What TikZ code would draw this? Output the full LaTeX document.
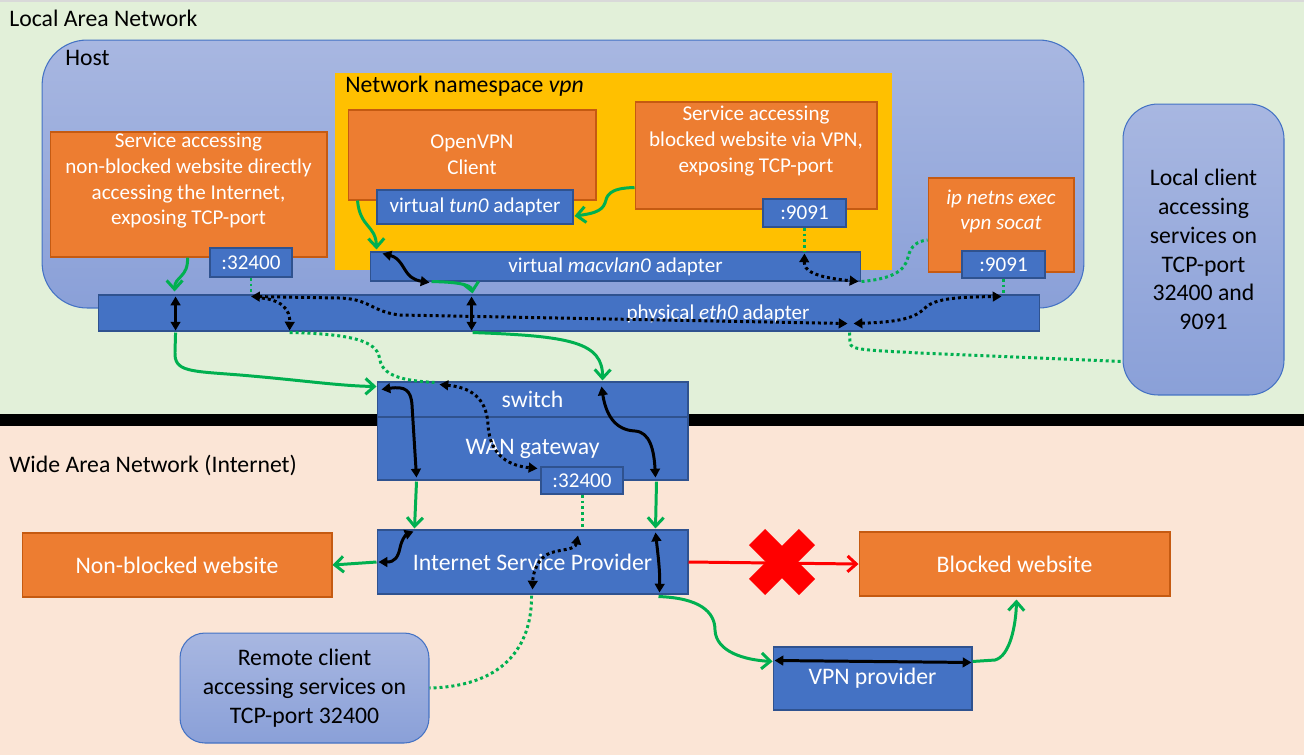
\documentclass[tikz,border=0pt]{standalone}
\usepackage{fontspec}
\setmainfont{Carlito}
\usepackage{tikz}
\usetikzlibrary{arrows.meta, calc, shapes.misc}
\definecolor{fondlan}{HTML}{E2F0D9}
\definecolor{fondwan}{HTML}{FBE5D6}
\definecolor{gris}{HTML}{D9D9D9}
\definecolor{orangeservice}{HTML}{ED7D31}
\definecolor{bordorange}{HTML}{C55A11}
\definecolor{bleuadapt}{HTML}{4472C4}
\definecolor{bordbleu}{HTML}{2F528F}
\definecolor{jaune}{HTML}{FFC000}
\definecolor{vert}{HTML}{00B050}
\definecolor{rouge}{HTML}{FF0000}
\definecolor{hotehaut}{HTML}{A8B7E1}
\definecolor{hotebas}{HTML}{8AA0D8}
\newcommand{\txtboite}{\fontsize{12}{14.6}\selectfont}
\newcommand{\txttitre}{\fontsize{13.5}{16.4}\selectfont}
\tikzset{
  service/.style={draw=bordorange, fill=orangeservice, text=white, line width=0.6pt, inner sep=0pt, align=center, font=\txttitre},
  adaptateur/.style={draw=bordbleu, fill=bleuadapt, text=white, line width=0.6pt, inner sep=0pt, align=center, font=\txtboite},
  reseau/.style={draw=bordbleu, fill=bleuadapt, text=white, line width=0.6pt, inner sep=0pt, align=center, font=\txttitre},
  client/.style={draw=bleuadapt, top color=hotehaut, bottom color=hotebas, line width=0.6pt, inner sep=0pt, align=center, font=\txttitre},
  blanc/.style={text=white, align=center, font=\txtboite, inner sep=0pt},
  titre/.style={font=\txttitre, inner sep=0pt, anchor=west},
  flux/.style={draw=vert, line width=1.7pt, -{Straight Barb[length=5pt,width=9pt]}},
  duplex/.style={draw=black, line width=1.7pt, {Triangle[length=5pt,width=5.5pt]}-{Triangle[length=5pt,width=5.5pt]}},
  pointille/.style={draw=black, line width=1.7pt, dash pattern=on 1.7pt off 1.7pt},
  tirets/.style={draw=vert, line width=1.7pt, dash pattern=on 1.7pt off 1.7pt},
  bloquee/.style={draw=rouge, line width=1.7pt, -{Straight Barb[length=5pt,width=9pt]}}
}
\begin{document}
\begin{tikzpicture}[x=0.02cm, y=-0.02cm]
  \useasboundingbox (0,0) rectangle (1304,755);
  % Fonds
  \fill[fondlan] (0,0) rectangle (1304,414);
  \fill[fondwan] (0,426) rectangle (1304,755);
  \fill[black] (0,414) rectangle (1304,426);
  \fill[gris] (0,0) rectangle (1304,2);
  \node[titre] (lan) at (9,18) {Local Area Network};
  \node[titre] (wan) at (9,465) {Wide Area Network (Internet)};

  % Hote
  \node[client, rounded corners=0.9cm, minimum width=20.84cm, minimum height=5.36cm] (hote) at (563,174) {};
  \node[titre] (hote-txt) at (65,58) {Host};
  \node[service, minimum width=5.54cm, minimum height=2.5cm] (svcdirect) at (188.5,194.5) {};
  \node[blanc] (svcdirect-txt) at (188.5,181) {Service accessing\\non-blocked website directly\\accessing the Internet,\\exposing TCP-port};
  \node[adaptateur, minimum width=1.64cm, minimum height=0.58cm] (port32h) at (251,262.5) {:32400};

  % Namespace vpn
  \node[fill=jaune, inner sep=0pt, minimum width=11.14cm, minimum height=3.94cm] (ns) at (613.5,171.5) {};
  \node[titre] (ns-txt) at (345,86) {Network namespace \textit{vpn}};
  \node[service, font=\txtboite, minimum width=4.96cm, minimum height=1.8cm] (openvpn) at (472,155) {OpenVPN\\Client};
  \node[adaptateur, minimum width=3.92cm, minimum height=0.68cm] (tun0) at (475,207) {virtual \textit{tun0} adapter};
  \node[service, minimum width=4.84cm, minimum height=2.14cm] (svcvpn) at (756,155.5) {};
  \node[blanc] (svcvpn-txt) at (756,141) {Service accessing\\blocked website via VPN,\\exposing TCP-port};
  \node[adaptateur, minimum width=1.66cm, minimum height=0.56cm] (port91n) at (804.5,213) {:9091};
  \node[adaptateur, minimum width=9.82cm, minimum height=0.58cm] (macvlan) at (615.5,266.5) {virtual \textit{macvlan0} adapter};

  % socat
  \node[service, minimum width=2.92cm, minimum height=1.88cm] (socat) at (1001,225) {};
  \node[blanc] (socat-txt) at (1001,211.5) {\textit{ip netns exec}\\\textit{vpn socat}};
  \node[adaptateur, minimum width=1.66cm, minimum height=0.54cm] (port91s) at (1003.5,264.5) {:9091};

  % eth0
  \node[adaptateur, minimum width=18.84cm, minimum height=0.72cm] (eth0) at (569,313) {};
  \node[blanc] (eth0-txt) at (718,314) {physical \textit{eth0} adapter};

  % Clients
  \node[client, rounded corners=0.7cm, minimum width=3.22cm, minimum height=5.82cm] (local) at (1203.5,249.5) {Local client\\accessing\\services on\\TCP-port\\32400 and\\9091};
  \node[client, rounded corners=0.5cm, minimum width=4.98cm, minimum height=2.2cm] (remote) at (304.5,688) {Remote client\\accessing services on\\TCP-port 32400};

  % WAN
  \node[reseau, minimum width=6.22cm, minimum height=0.7cm] (switch) at (532.5,399.5) {switch};
  \node[reseau, minimum width=6.22cm, minimum height=1.26cm] (gateway) at (532.5,448.5) {WAN gateway};
  \node[adaptateur, minimum width=1.64cm, minimum height=0.54cm] (port32g) at (582,480.5) {:32400};
  \node[reseau, minimum width=6.22cm, minimum height=1.28cm] (isp) at (532.5,562) {Internet Service Provider};
  \node[service, minimum width=6.2cm, minimum height=1.28cm] (nonbloque) at (177,565) {Non-blocked website};
  \node[service, minimum width=6.22cm, minimum height=1.28cm] (bloque) at (1014.5,564) {Blocked website};
  \node[reseau, minimum width=3.98cm, minimum height=1.26cm] (vpnprov) at (872.5,678.5) {VPN provider};

  % Service direct
  \draw[flux] ($(svcdirect.south west)+(138,0)$) .. controls +(1,20) and +(0,-15) .. ($(eth0.north west)+(77,-3)$);
  \draw[duplex] ($(eth0.north west)+(78,2)$) -- ($(eth0.south west)+(78,-1)$);
  \draw[flux] ($(eth0.south west)+(78,1)$) -- (175,352) .. controls (174,372) and (190,371) .. (240,375) .. controls (300,380) and (340,386) .. ($(switch.north west)+(0,5)$);
  \draw[tirets] (port32h.south) -- (port32h.south |- eth0.north);
  \draw[pointille, {Triangle[length=5pt,width=5.5pt]}-{Triangle[length=5pt,width=5.5pt]}] ($(port32h.south |- eth0.north)+(0,2)$) -- (340,298) .. controls (370,299) and (372,312) .. (400,315) -- ($(eth0.south west)+(750,-8)$);
  \draw[pointille, -{Triangle[length=5pt,width=5.5pt]}] ($(port32h.south |- eth0.north)+(5,3)$) .. controls (283,299) and (290,310) .. ($(eth0.south west)+(192,-1)$);
  \draw[tirets] ($(eth0.south west)+(192,1)$) .. controls (365,334) and (378,345) .. (380,360) .. controls (383,378) and (410,381) .. ($(switch.north west)+(58,1)$);
  \draw[pointille, {Triangle[length=5pt,width=5.5pt]}-{Triangle[length=5pt,width=5.5pt]}] ($(switch.north west)+(63,3)$) .. controls (478,388) and (487,405) .. (488,425) .. controls (490,458) and (512,466) .. ($(port32g.north west)+(-3,2)$);

  % Switch et passerelle
  \draw[duplex] ($(switch.north west)+(5,8)$) .. controls (405,386) and (411,390) .. (412,405) -- ($(gateway.south west)+(40,-3)$);
  \draw[flux] ($(gateway.south west)+(40,1)$) -- ($(isp.north west)+(38,-1)$);
  \draw[flux] ($(eth0.south west)+(375,1)$) .. controls (570,336) and (603,342) .. ($(switch.north west)+(226,-1)$);
  \draw[duplex] ($(switch.north west)+(225,5)$) .. controls (606,415) and (615,430) .. (635,431) .. controls (650,432) and (654,450) .. ($(gateway.south west)+(279,-3)$);
  \draw[flux] ($(gateway.south west)+(280,1)$) -- ($(isp.north west)+(279,-1)$);

  % Fournisseur
  \draw[duplex] ($(isp.north west)+(279,3)$) .. controls (658,555) and (660,570) .. ($(isp.south west)+(283,-2)$);
  \draw[flux] ($(isp.south west)+(282,2)$) .. controls (700,598) and (715,612) .. (715,630) .. controls (716,652) and (745,660) .. ($(vpnprov.north west)+(0,15)$);
  \draw[duplex] ($(vpnprov.north west)+(2,14)$) -- ($(vpnprov.north east)+(-1,16)$);
  \draw[flux] ($(vpnprov.north east)+(0,15)$) -- (995,660) .. controls (1010,656) and (1016,625) .. ($(bloque.south)+(2,3)$);
  \draw[bloquee] (isp.east) -- (bloque.west);
  \node[cross out, draw=rouge, line width=13pt, minimum size=1cm, inner sep=0pt, outer sep=0pt] (croix) at (782,562) {};
  \draw[flux] (isp.west) -- (nonbloque.east);
  \draw[duplex] ($(isp.west)+(2,0)$) .. controls (395,562) and (398,557) .. (400,548) .. controls (402,538) and (407,534) .. ($(isp.north west)+(37,2)$);
  \draw[tirets] (port32g.south) -- (port32g.south |- isp.north);
  \draw[pointille, {Triangle[length=5pt,width=5.5pt]}-{Triangle[length=5pt,width=5.5pt]}] ($(port32g.south |- isp.north)+(-4,6)$) .. controls (575,550) and (562,549) .. (550,553) .. controls (538,558) and (533,572) .. ($(isp.south west)+(156,-5)$);
  \draw[tirets] ($(isp.south west)+(155,1)$) .. controls (532,640) and (510,686) .. (remote.east);

  % Namespace
  \draw[flux] ($(svcvpn.south west)+(0,-22)$) .. controls (608,188) and (607,196) .. (605,203) .. controls (602,212) and (590,214) .. ($(tun0.east)+(1,9)$);
  \draw[flux] ($(openvpn.south west)+(10,0)$) .. controls (360,228) and (376,225) .. ($(macvlan.north west)+(7,-2)$);
  \draw[duplex] ($(macvlan.north west)+(13,2)$) .. controls (400,258) and (403,268) .. (408,274) .. controls (413,280) and (420,281) .. ($(macvlan.south west)+(60,1)$);
  \draw[flux] ($(macvlan.south west)+(62,0)$) .. controls (455,282) and (471,284) .. ($(eth0.north west)+(375,-1)$);
  \draw[duplex] ($(eth0.north west)+(374,2)$) -- ($(eth0.south west)+(374,-1)$);
  \draw[tirets] (port91n.south) -- (port91n.south |- macvlan.north);
  \draw[pointille, {Triangle[length=5pt,width=5.5pt]}-{Triangle[length=5pt,width=5.5pt]}] ($(port91n.south |- macvlan.north)+(0,2)$) .. controls (804,270) and (812,277) .. ($(macvlan.south east)+(-3,0)$);
  \draw[tirets] (macvlan.south east) .. controls (890,279) and (905,272) .. (908,257) .. controls (911,245) and (918,241) .. ($(socat.west)+(0,15)$);

  % socat et client local
  \draw[tirets] (port91s.south) -- (port91s.south |- eth0.north);
  \draw[pointille, {Triangle[length=5pt,width=5.5pt]}-{Triangle[length=5pt,width=5.5pt]}] ($(eth0.south west)+(756,-8)$) .. controls (900,322) and (915,318) .. (925,308) .. controls (935,298) and (960,297) .. ($(port91s.south |- eth0.north)+(-2,2)$);
  \draw[tirets] ($(eth0.south west)+(752,1)$) -- (850,343) .. controls (851,350) and (865,350) .. (920,353) -- ($(local.west)+(0,112)$);
\end{tikzpicture}
\end{document}
